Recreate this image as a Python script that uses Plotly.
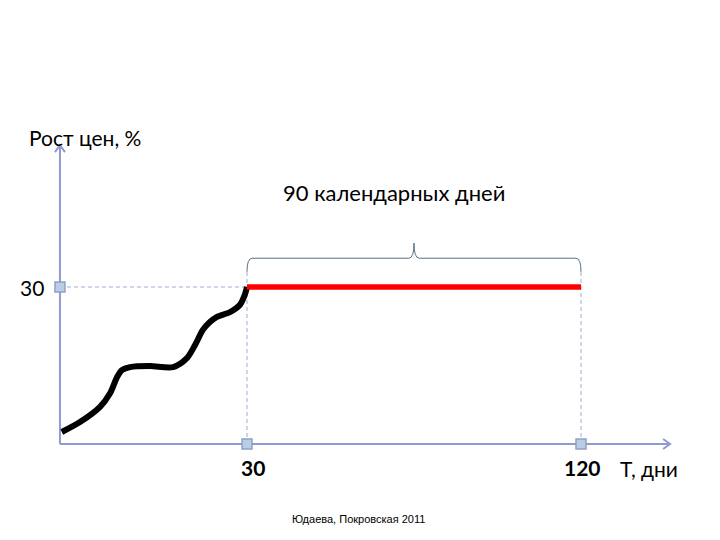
import plotly.graph_objects as go

# ---- data (days, percent) ----
curve_x = [-19.9, -15.0, -9.6, -6.9, -5.0, -3.7, -1.5, 3.9, 10.1, 13.8, 16.0, 18.1, 20.0, 21.9, 25.4, 28.1, 29.4, 30.0]
curve_y = [2.3, 4.2, 7.1, 9.7, 12.8, 14.1, 14.7, 14.9, 14.7, 16.4, 18.9, 21.8, 23.3, 24.3, 25.2, 26.6, 28.5, 30.0]
period_x = [30, 120]
period_y = [30, 30]
tick_days = [30, 120]
tick_labels = ["30", "120"]
level_value = 30
level_label = "30"
axis_origin_x = -20.4
y_axis_top = 57.1
x_axis_end = 144.0
brace_y = 35.5
brace_tip = 38.4
brace_end = 32.9

X_RANGE = [-34.40, 159.61]
Y_RANGE = [-19.87, 83.31]
PX_X = 720 / (X_RANGE[1] - X_RANGE[0])   # pixels per day
PX_Y = 540 / (Y_RANGE[1] - Y_RANGE[0])   # pixels per percent

AXIS_COLOR = "#8f9bd1"
DASH_COLOR = "#a3abd0"
SQ_FILL = "#b9cde6"
SQ_LINE = "#8ea2c0"

fig = go.Figure()

# dashed guide lines
fig.add_trace(go.Scatter(x=[axis_origin_x, period_x[0]], y=[level_value, level_value], mode="lines",
                         line=dict(color=DASH_COLOR, width=1, dash="4px,3px"), hoverinfo="skip"))
for d in tick_days:
    fig.add_trace(go.Scatter(x=[d, d], y=[0, brace_end], mode="lines",
                             line=dict(color=DASH_COLOR, width=1, dash="4px,3px"), hoverinfo="skip"))

# axes with open chevron arrowheads
hw, hl = 5, 7  # arrowhead half-width / length in px
fig.add_trace(go.Scatter(x=[axis_origin_x, axis_origin_x], y=[0, y_axis_top], mode="lines",
                         line=dict(color=AXIS_COLOR, width=2), hoverinfo="skip"))
fig.add_trace(go.Scatter(x=[axis_origin_x - hw / PX_X, axis_origin_x, axis_origin_x + hw / PX_X],
                         y=[y_axis_top - hl / PX_Y, y_axis_top, y_axis_top - hl / PX_Y], mode="lines",
                         line=dict(color=AXIS_COLOR, width=2), hoverinfo="skip"))
fig.add_trace(go.Scatter(x=[axis_origin_x, x_axis_end], y=[0, 0], mode="lines",
                         line=dict(color=AXIS_COLOR, width=2), hoverinfo="skip"))
fig.add_trace(go.Scatter(x=[x_axis_end - hl / PX_X, x_axis_end, x_axis_end - hl / PX_X],
                         y=[hw / PX_Y, 0, -hw / PX_Y], mode="lines",
                         line=dict(color=AXIS_COLOR, width=2), hoverinfo="skip"))

# curve and red line
fig.add_trace(go.Scatter(x=curve_x, y=curve_y, mode="lines", line=dict(color="#000000", width=6, shape="spline", smoothing=0.8),
                         hoverinfo="skip"))
fig.add_trace(go.Scatter(x=period_x, y=period_y, mode="lines", line=dict(color="#ff0000", width=5.5), hoverinfo="skip"))

# square markers
fig.add_trace(go.Scatter(x=[axis_origin_x] + tick_days, y=[level_value, 0, 0], mode="markers",
                         marker=dict(symbol="square", size=10, color=SQ_FILL, line=dict(color=SQ_LINE, width=1.5)),
                         hoverinfo="skip"))

# brace
x0, x1 = period_x
xm = (x0 + x1) / 2
r = 1.4
path = (f"M {x0},{brace_end} Q {x0},{brace_y} {x0 + r},{brace_y} L {xm - r},{brace_y} "
        f"Q {xm},{brace_y} {xm},{brace_tip} Q {xm},{brace_y} {xm + r},{brace_y} L {x1 - r},{brace_y} "
        f"Q {x1},{brace_y} {x1},{brace_end}")
fig.add_shape(type="path", path=path, xref="x", yref="y", line=dict(color="#5b6f82", width=1))

FONT = "Lato"
FS = 21
fig.add_annotation(x=-13.65, y=58.66, xref="x", yref="y", text="Рост цен, %", showarrow=False,
                   xanchor="center", yanchor="middle", font=dict(family=FONT, size=FS, color="#000000"))
fig.add_annotation(x=69.6, y=48.15, xref="x", yref="y", text="90 календарных дней", showarrow=False,
                   xanchor="center", yanchor="middle", font=dict(family=FONT, size=22, color="#000000"))
fig.add_annotation(x=axis_origin_x, y=level_value, xref="x", yref="y", text=level_label, showarrow=False,
                   xanchor="right", yanchor="middle", xshift=-14, font=dict(family=FONT, size=FS, color="#000000"))
for d, lab in zip(tick_days, tick_labels):
    fig.add_annotation(x=d, y=0, xref="x", yref="y", text=f"<b>{lab}</b>", showarrow=False,
                       xanchor="center", yanchor="top", yshift=-9, xshift=6 if lab == "30" else 1,
                       font=dict(family=FONT, size=FS, color="#000000"))
fig.add_annotation(x=138.3, y=0, xref="x", yref="y", text="Т, дни", showarrow=False,
                   xanchor="center", yanchor="top", yshift=-10,
                   font=dict(family=FONT, size=FS, color="#000000"))
fig.add_annotation(x=350 / 720, y=(540 - 511) / 540, xref="paper", yref="paper", text="Юдаева, Покровская 2011",
                   showarrow=False, xanchor="center", yanchor="middle",
                   font=dict(family="Liberation Sans", size=11, color="#000000"))

fig.update_layout(width=720, height=540, margin=dict(l=0, r=0, t=0, b=0), showlegend=False,
                  plot_bgcolor="white", paper_bgcolor="white")
fig.update_xaxes(range=X_RANGE, visible=False, fixedrange=True)
fig.update_yaxes(range=Y_RANGE, visible=False, fixedrange=True)

fig.write_html("out.html")
